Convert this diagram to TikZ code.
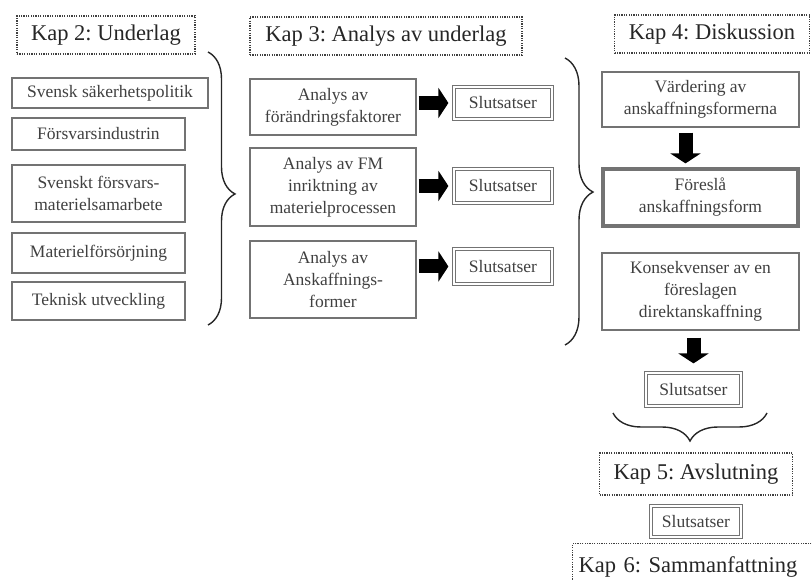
\documentclass[tikz,border=0pt]{standalone}
\usepackage{fontspec}
\setmainfont{Liberation Serif}
\usetikzlibrary{arrows.meta,decorations.pathreplacing}
\frenchspacing
\begin{document}
\begin{tikzpicture}[x=1pt,y=-1pt,
  header/.style={draw=black!75, dash pattern=on 1.2pt off 1.2pt, line width=1.3pt, minimum height=38pt, inner sep=0pt,
     font=\fontsize{22.5}{26}\selectfont, text=black!85},
  box/.style={draw=black!55, line width=1.3pt, inner sep=0pt, align=center,
     font=\fontsize{17.5}{22}\selectfont, text=black!75},
  dbox/.style={box, draw=black!55, line width=1.2pt, double=white, double distance=1.4pt},
  thickbox/.style={box, line width=3.2pt},
  blockarrow/.style={line width=14pt, -{Triangle[width=30pt,length=10pt]}, black},
  bracestyle/.style={draw=black!85, line width=1.4pt, decorate}
]
\useasboundingbox (0,0) rectangle (812,580);
% headers
\node[header, minimum width=178pt] (h2) at (106,35) {Kap 2: Underlag};
\node[header, minimum width=272pt] (h3) at (386,36) {Kap 3: Analys av underlag};
\node[header, minimum width=195pt] (h4) at (712,34) {Kap 4: Diskussion};
\node[header, minimum width=193pt, minimum height=42pt] (h5) at (696,474) {Kap 5: Avslutning};
\node[header, minimum width=262pt, minimum height=46pt, anchor=north west, inner xsep=3pt,
      text width=250pt, align=left] (h6) at (572,543) {Kap 6: Sammanfattning};
% left column
\node[box, minimum width=196pt, minimum height=30pt] (l1) at (110,93) {Svensk säkerhetspolitik};
\node[box, minimum width=173pt, minimum height=32pt] (l2) at (98.5,134) {Försvarsindustrin};
\node[box, minimum width=173pt, minimum height=57pt] (l3) at (98.5,193.5) {Svenskt försvars-\\materielsamarbete};
\node[box, minimum width=173pt, minimum height=40pt] (l4) at (98.5,253) {Materielförsörjning};
\node[box, minimum width=173pt, minimum height=38pt] (l5) at (98.5,301) {Teknisk utveckling};
% middle column
\node[box, minimum width=166pt, minimum height=56pt] (m1) at (333,107) {Analys av\\förändringsfaktorer};
\node[box, minimum width=166pt, minimum height=78pt] (m2) at (333,187) {Analys av FM\\inriktning av\\materielprocessen};
\node[box, minimum width=166pt, minimum height=77pt] (m3) at (333,279.5) {Analys av\\Anskaffnings-\\former};
\node[dbox, minimum width=98pt, minimum height=32pt] (s1) at (503,103) {Slutsatser};
\node[dbox, minimum width=98pt, minimum height=34pt] (s2) at (503,186) {Slutsatser};
\node[dbox, minimum width=98pt, minimum height=35pt] (s3) at (503,266.5) {Slutsatser};
% right column
\node[box, minimum width=197pt, minimum height=55pt] (r1) at (700.5,99.5) {Värdering av\\anskaffningsformerna};
\node[thickbox, minimum width=195pt, minimum height=57pt] (r2) at (700.5,197.5) {Föreslå\\anskaffningsform};
\node[box, minimum width=197pt, minimum height=77pt] (r3) at (700.5,291.5) {Konsekvenser av en\\föreslagen\\direktanskaffning};
\node[dbox, minimum width=95pt, minimum height=33pt] (s4) at (693.5,389.5) {Slutsatser};
\node[dbox, minimum width=90pt, minimum height=31pt] (s5) at (696,521.5) {Slutsatser};
% block arrows
\draw[blockarrow] ([xshift=2pt]m1.east |- s1.west) -- ([xshift=-5pt]s1.west);
\draw[blockarrow] ([xshift=2pt]m2.east |- s2.west) -- ([xshift=-5pt]s2.west);
\draw[blockarrow] ([xshift=2pt]m3.east |- s3.west) -- ([xshift=-5pt]s3.west);
\draw[blockarrow] ([xshift=-15pt,yshift=-5pt]r1.south) -- ([xshift=-15pt,yshift=4pt]r2.north);
\draw[blockarrow] ([yshift=-7pt]r3.south -| s4.north) -- ([yshift=9pt]s4.north);
% braces
\coordinate (bLa) at (208,52);
\coordinate (bLb) at (208,325);
\coordinate (bRa) at (565,58);
\coordinate (bRb) at (565,345);
\coordinate (bDa) at (767,413);
\coordinate (bDb) at (613,413);
\draw[bracestyle, decoration={brace, amplitude=27pt, aspect=0.52}] (bLa) -- (bLb);
\draw[bracestyle, decoration={brace, amplitude=28pt, aspect=0.467}] (bRa) -- (bRb);
\draw[bracestyle, decoration={brace, amplitude=28pt, aspect=0.5}] (bDa) -- (bDb);
\end{tikzpicture}
\end{document}
